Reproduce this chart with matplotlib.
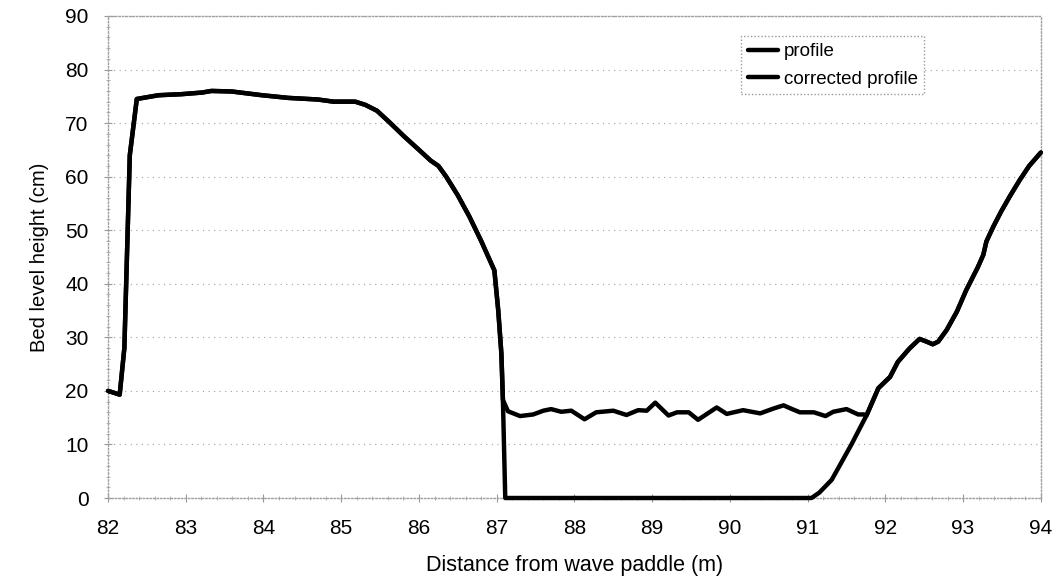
import matplotlib
matplotlib.use("Agg")
import matplotlib.pyplot as plt
from matplotlib.ticker import MultipleLocator

# bar crest and lee slope, shared by both curves
x_front = [82.0, 82.15, 82.21, 82.28, 82.37, 82.65, 82.95, 83.21, 83.33, 83.59,
           83.98, 84.32, 84.70, 84.90, 85.18, 85.31, 85.46, 85.61, 85.81, 86.0,
           86.15, 86.25, 86.35, 86.5, 86.65, 86.8, 86.97, 87.02, 87.06, 87.08]
y_front = [20.0, 19.3, 28.0, 64.0, 74.5, 75.2, 75.4, 75.7, 76.0, 75.9,
           75.2, 74.7, 74.4, 74.0, 74.0, 73.4, 72.3, 70.3, 67.5, 65.0,
           63.0, 62.0, 60.0, 56.5, 52.5, 48.0, 42.5, 35.0, 27.0, 18.3]

# measured trough (no echo -> zero)
x_gap = [87.11, 91.05, 91.15]
y_gap = [0.0, 0.0, 1.0]

# corrected trough bed
x_trough = [87.145, 87.30, 87.47, 87.60, 87.70, 87.83, 87.96, 88.13, 88.28, 88.50,
            88.67, 88.82, 88.93, 89.04, 89.21, 89.32, 89.47, 89.59, 89.83, 89.96,
            90.17, 90.39, 90.56, 90.69, 90.80, 90.90, 91.08, 91.23, 91.33, 91.50,
            91.65, 91.72]
y_trough = [16.2, 15.3, 15.6, 16.3, 16.6, 16.1, 16.3, 14.7, 16.0, 16.3,
            15.5, 16.4, 16.3, 17.8, 15.4, 16.0, 16.0, 14.6, 16.9, 15.7,
            16.4, 15.8, 16.7, 17.3, 16.6, 16.0, 16.0, 15.3, 16.1, 16.6,
            15.6, 15.6]

# stoss slope of the next bar
x_rear = [91.31, 91.56, 91.76, 91.91, 92.06, 92.16, 92.31, 92.44, 92.53, 92.61,
          92.68, 92.79, 92.92, 93.04, 93.19, 93.26, 93.30, 93.39, 93.49, 93.60,
          93.73, 93.85, 94.0]
y_rear = [3.4, 9.9, 15.5, 20.5, 22.6, 25.4, 27.9, 29.7, 29.2, 28.7,
          29.2, 31.4, 34.8, 38.8, 43.1, 45.4, 47.9, 50.7, 53.5, 56.3,
          59.4, 62.0, 64.5]

x_profile = x_front + x_gap + x_rear
y_profile = y_front + y_gap + y_rear
x_corr = x_front + x_trough + x_rear[2:]
y_corr = y_front + y_trough + y_rear[2:]

plt.rcParams['font.family'] = ['Liberation Sans', 'DejaVu Sans']

fig = plt.figure(figsize=(10.54, 5.78), dpi=100)
ax = fig.add_axes([0.1025, 0.1384, 0.885, 0.834])

ax.plot(x_profile, y_profile, color='black', lw=3.2, solid_joinstyle='round',
        solid_capstyle='round', clip_on=False, label='profile', zorder=3)
ax.plot(x_corr, y_corr, color='black', lw=3.2, solid_joinstyle='round',
        solid_capstyle='round', clip_on=False, label='corrected profile', zorder=3)

ax.set_xlim(82, 94)
ax.set_ylim(0, 90)
ax.xaxis.set_major_locator(MultipleLocator(1))
ax.xaxis.set_minor_locator(MultipleLocator(0.2))
ax.yaxis.set_major_locator(MultipleLocator(10))
ax.yaxis.set_minor_locator(MultipleLocator(2))

ax.yaxis.grid(True, which='major', color='#a0a0a0', lw=0.8, linestyle=(0, (1, 4)))
ax.set_axisbelow(True)

for s in ax.spines.values():
    s.set_color('#a0a0a0')
    s.set_linewidth(1.0)
    s.set_linestyle((0, (1, 1.5)))

ax.tick_params(axis='both', which='major', direction='inout', length=6, width=0.8,
               color='#999999', labelsize=15)
ax.tick_params(axis='both', which='minor', direction='inout', length=3, width=0.6,
               color='#aaaaaa')
ax.tick_params(axis='x', which='major', pad=12)
ax.tick_params(axis='y', which='major', pad=11)

ax.set_xlabel('Distance from wave paddle (m)', fontsize=15.5, labelpad=12)
ax.set_ylabel('Bed level height (cm)', fontsize=14.5, labelpad=12)

leg = ax.legend(loc='upper left', bbox_to_anchor=(0.669, 0.977), fontsize=13.5,
                handlelength=1.6, handletextpad=0.3, borderpad=0.35,
                labelspacing=0.55, fancybox=False, framealpha=1)
frame = leg.get_frame()
frame.set_edgecolor('#999999')
frame.set_linestyle((0, (1, 1.5)))
frame.set_linewidth(1.0)

fig.savefig('out.png', dpi=100)
